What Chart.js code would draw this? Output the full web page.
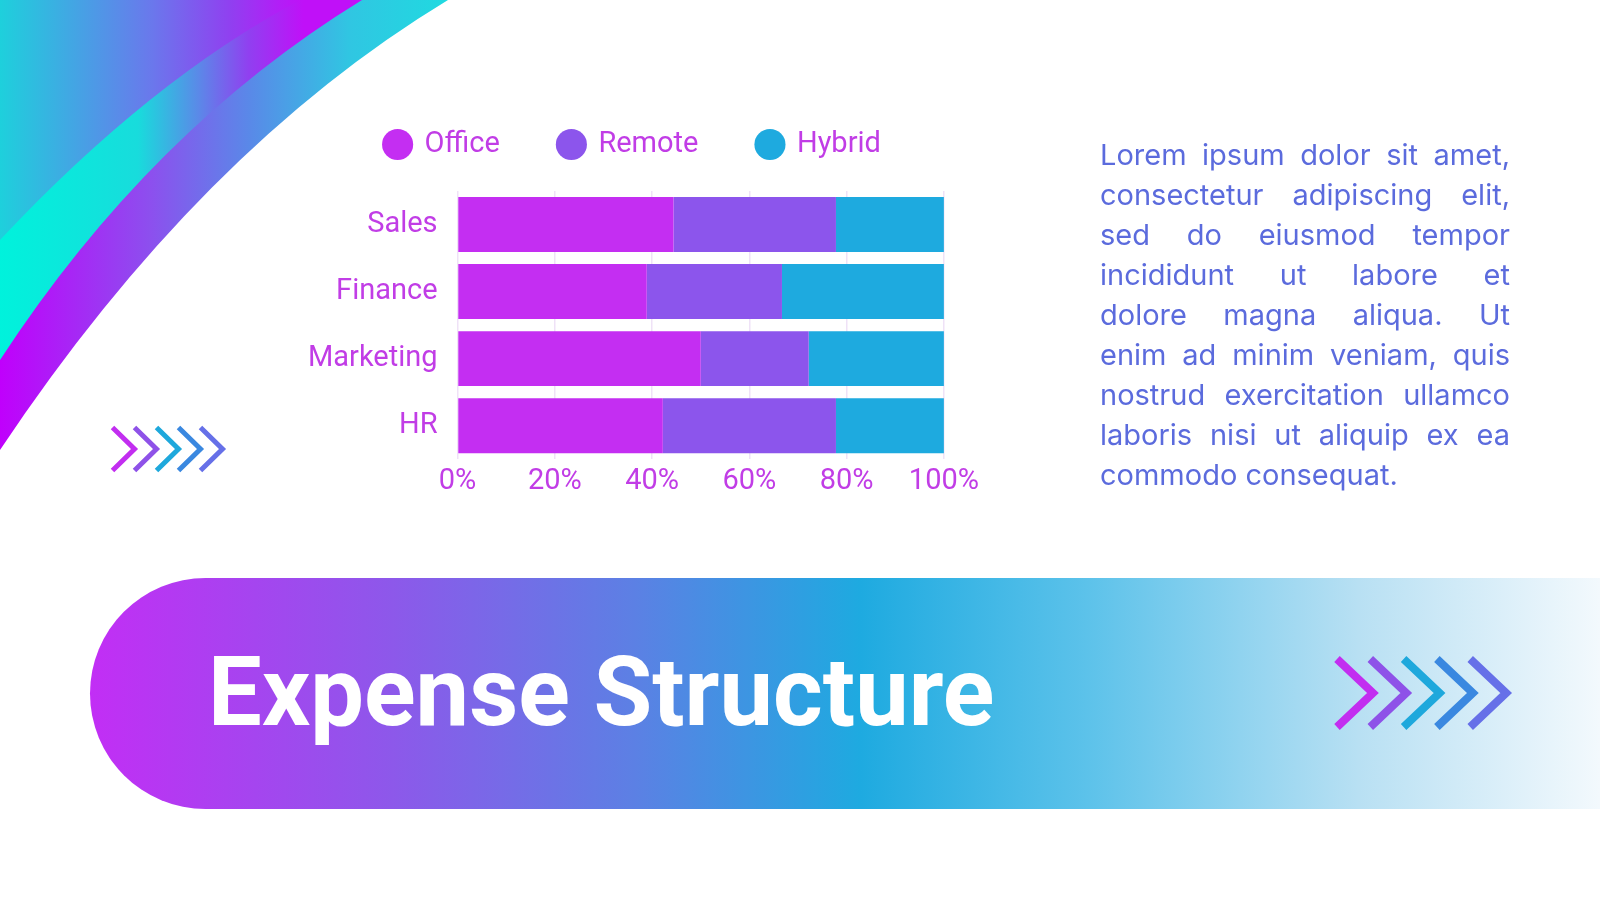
<!DOCTYPE html>
<html>
<head>
<meta charset="utf-8">
<script src="https://cdn.jsdelivr.net/npm/chart.js@4.4.1/dist/chart.umd.min.js"></script>
<style>
    html, body { margin: 0; padding: 0; background: #ffffff; }
    #page { position: relative; width: 1600px; height: 900px; overflow: hidden; background: #ffffff; }
    #bg { position: absolute; left: 0; top: 0; }
    #chart-box { position: absolute; left: 270px; top: 71px; width: 714px; height: 433px; }
    #text { position: absolute; left: 1100px; top: 135px; width: 410px; font-family: Inter, sans-serif; font-size: 29px; line-height: 40px; color: #5b6bdd; }
    #text div { text-align: justify; text-align-last: justify; white-space: nowrap; }
    #text div.last { text-align-last: left; }
    #banner { position: absolute; left: 90px; top: 578px; width: 1510px; height: 231px; border-radius: 116px 0 0 116px;
        background: linear-gradient(90deg, #c22ef5 0%, #8d58ea 20%, #5c80e4 36%, #1eaae0 51%, #5cc2ea 66%, #b8e0f3 84%, #f3f9fd 100%); }
    #title { position: absolute; left: 208px; top: 645px; font-family: Roboto, sans-serif; font-weight: 700; font-size: 95.5px; line-height: 95.5px; color: #ffffff; white-space: nowrap; }
    #fg { position: absolute; left: 0; top: 0; pointer-events: none; }
</style>
</head>
<body>
<div id="page">
    <canvas id="bg" width="1600" height="900"></canvas>
    <div id="chart-box"><canvas id="chart"></canvas></div>
    <div id="text">
        <div>Lorem ipsum dolor sit amet,</div>
        <div>consectetur adipiscing elit,</div>
        <div>sed do eiusmod tempor</div>
        <div>incididunt ut labore et</div>
        <div>dolore magna aliqua. Ut</div>
        <div>enim ad minim veniam, quis</div>
        <div>nostrud exercitation ullamco</div>
        <div>laboris nisi ut aliquip ex ea</div>
        <div class="last">commodo consequat.</div>
    </div>
    <div id="banner"></div>
    <div id="title">Expense Structure</div>
    <canvas id="fg" width="1600" height="900"></canvas>
</div>
<script>
const departments = ['Sales', 'Finance', 'Marketing', 'HR'];
const officeShare = [44.4, 38.9, 50.0, 42.2];
const remoteShare = [33.4, 27.8, 22.2, 35.6];
const hybridShare = [22.2, 33.3, 27.8, 22.2];
const tickLabels = ['0%', '20%', '40%', '60%', '80%', '100%'];

const labelColor = '#c13de6';
const chevronColors = ['#c22ef0', '#8e52e8', '#1ea8dc', '#3a88e0', '#6670e8'];

/* decoracion esquina */
const bg = document.getElementById('bg').getContext('2d');

function corner(y0, x1, cx, cy, stops) {
    const g = bg.createLinearGradient(0, 0, 460, 0);
    stops.forEach(([p, c]) => g.addColorStop(p, c));
    bg.beginPath();
    bg.moveTo(0, 0);
    bg.lineTo(0, y0);
    bg.quadraticCurveTo(cx, cy, x1, 0);
    bg.closePath();
    bg.fillStyle = g;
    bg.fill();
}

// banda exterior
corner(450, 448, 200, 150, [
    [0, '#c000fc'], [0.33, '#8c50ee'], [0.54, '#5a88e8'], [0.76, '#30c6e2'], [1, '#1edce0']
]);
// banda cian
corner(360, 362, 150, 130, [
    [0, '#00f2dc'], [0.3, '#18dcdc'], [0.43, '#5a8ae8'], [0.54, '#9040f0'], [0.66, '#c010f8'], [1, '#c010f8']
]);
// zona interior
corner(240, 300, 150, 80, [
    [0, '#1ed0dc'], [0.33, '#6a78ec'], [0.5, '#9040f0'], [0.6, '#b020f6'], [0.66, '#c010f8'], [1, '#c010f8']
]);

/* flechas */
const fg = document.getElementById('fg').getContext('2d');

function chevrons(x0, top, w, h, step, lw) {
    chevronColors.forEach((c, i) => {
        const x = x0 + i * step;
        fg.beginPath();
        fg.moveTo(x + lw / 2, top + lw / 2);
        fg.lineTo(x + w - lw / 2, top + h / 2);
        fg.lineTo(x + lw / 2, top + h - lw / 2);
        fg.strokeStyle = c;
        fg.lineWidth = lw;
        fg.lineJoin = 'miter';
        fg.lineCap = 'butt';
        fg.stroke();
    });
}

chevrons(110, 425, 27, 48, 22, 5);
chevrons(1333, 655, 44, 76, 33.3, 8);

/* grafico */
const legendGap = {
    id: 'legendGap',
    beforeInit(chart) {
        const fit = chart.legend.fit;
        chart.legend.fit = function () {
            fit.call(this);
            this.height = 120;
        };
    }
};

const font = { family: 'Roboto', size: 29 };

new Chart(document.getElementById('chart'), {
    type: 'bar',
    data: {
        labels: departments,
        datasets: [
            { label: 'Office', data: officeShare, backgroundColor: '#c42ef2' },
            { label: 'Remote', data: remoteShare, backgroundColor: '#8c55ec' },
            { label: 'Hybrid', data: hybridShare, backgroundColor: '#1eaadf' }
        ].map((d) => Object.assign(d, {
            borderWidth: 0,
            categoryPercentage: 0.9,
            barPercentage: 0.91
        }))
    },
    options: {
        indexAxis: 'y',
        responsive: true,
        maintainAspectRatio: false,
        animation: false,
        layout: {
            padding: { left: 18, right: 6, top: 0, bottom: 0 }
        },
        plugins: {
            legend: {
                position: 'top',
                labels: {
                    usePointStyle: true,
                    pointStyle: 'circle',
                    boxWidth: 25,
                    boxHeight: 22,
                    padding: 59,
                    color: labelColor,
                    font
                }
            },
            tooltip: { enabled: false }
        },
        scales: {
            x: {
                stacked: true,
                min: 0,
                max: 100,
                ticks: {
                    stepSize: 20,
                    padding: 5,
                    color: labelColor,
                    font,
                    callback: (v, i) => tickLabels[i]
                },
                grid: { color: '#efe2f7', lineWidth: 1.5, drawTicks: false },
                border: { display: false }
            },
            y: {
                stacked: true,
                ticks: { padding: 20, color: labelColor, font },
                grid: { display: false, drawTicks: false },
                border: { display: false }
            }
        }
    },
    plugins: [legendGap]
});
</script>
</body>
</html>
